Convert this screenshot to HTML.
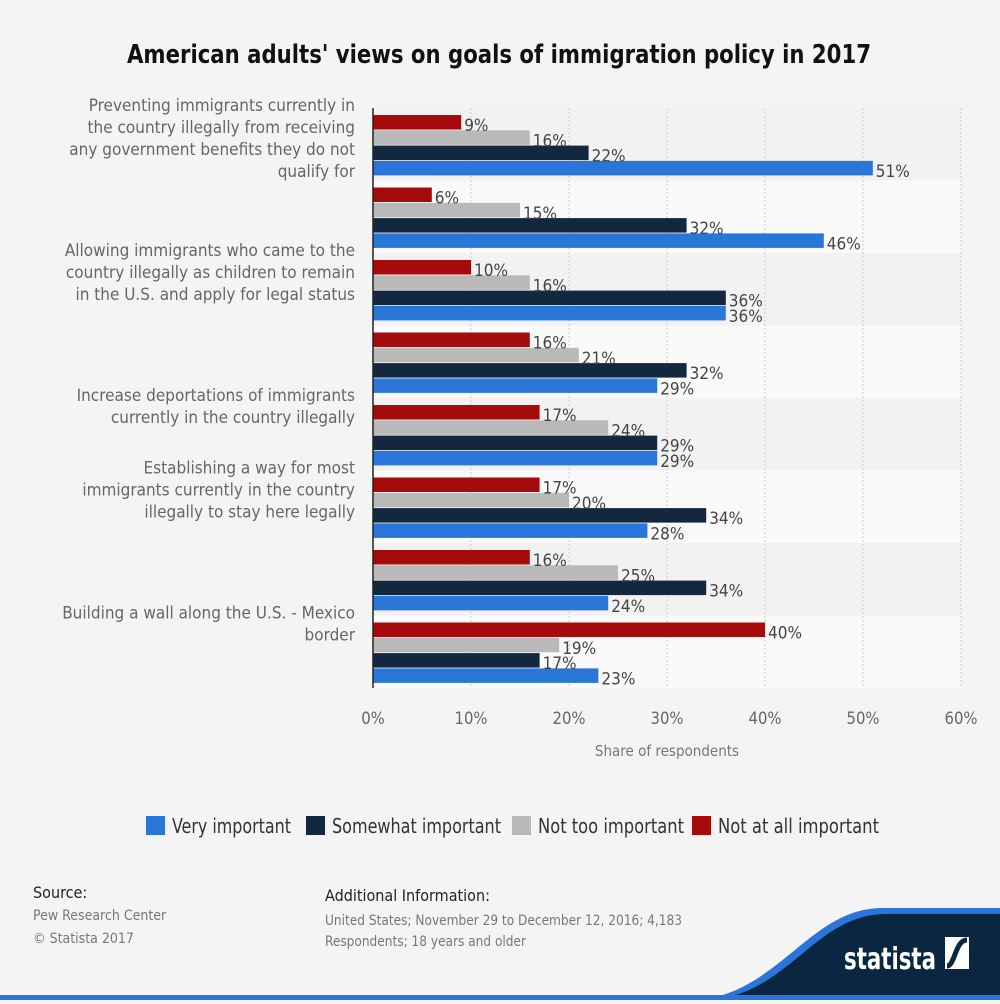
<!DOCTYPE html>
<html><head><meta charset="utf-8">
<style>
html,body{margin:0;padding:0;background:#f4f4f4;}
body{width:1000px;height:1000px;position:relative;overflow:hidden;font-family:"Liberation Sans Narrow","DejaVu Sans Condensed","Liberation Sans",sans-serif;}
svg text{font-family:"Liberation Sans Narrow","DejaVu Sans Condensed","Liberation Sans",sans-serif;}
</style></head>
<body>
<svg id="chart" width="1000" height="1000">
<text x="127" y="63" textLength="744" lengthAdjust="spacingAndGlyphs" font-size="26" font-weight="bold" fill="#111">American adults' views on goals of immigration policy in 2017</text>
<g id="bands"></g><g id="grid"></g><g id="bars"></g><g id="labels"></g><g id="cats"></g><g id="xticks"></g>
<line x1="373" y1="108" x2="373" y2="688" stroke="#222" stroke-width="1.5"/>
<text x="667" y="756" text-anchor="middle" font-size="15" fill="#777">Share of respondents</text>
<g id="legend"></g>
<g>
<text x="33" y="898" font-size="16" fill="#222">Source:</text>
<text x="33" y="920" font-size="14" fill="#777">Pew Research Center</text>
<text x="33" y="943" font-size="14" fill="#777">© Statista 2017</text>
</g>
<g>
<text x="325" y="901" font-size="16" fill="#222">Additional Information:</text>
<text x="325" y="925" font-size="14" fill="#777" textLength="357" lengthAdjust="spacingAndGlyphs">United States; November 29 to December 12, 2016; 4,183</text>
<text x="325" y="946" font-size="14" fill="#777" textLength="201" lengthAdjust="spacingAndGlyphs">Respondents; 18 years and older</text>
</g>
<path d="M700 1000 C780 990 810 910 880 908 L1000 908 L1000 1000 Z" fill="#2a75d8"/>
<path d="M712 1000 C790 992 815 915 885 914 L1000 914 L1000 1000 Z" fill="#0b2640"/>
<rect x="0" y="995" width="1000" height="5" fill="#2a75d8"/>
<text x="844" y="969" font-size="30" font-weight="bold" fill="#fff" textLength="92" lengthAdjust="spacingAndGlyphs">statista</text>
<rect x="945" y="937" width="24" height="32" fill="#fff"/>
<path d="M947 966 C955 966 955 940 967 940" stroke="#0b2640" stroke-width="5" fill="none"/>
</svg>
<script>
const categories=["Preventing immigrants currently in|the country illegally from receiving|any government benefits they do not|qualify for","","Allowing immigrants who came to the|country illegally as children to remain|in the U.S. and apply for legal status","","Increase deportations of immigrants|currently in the country illegally","Establishing a way for most|immigrants currently in the country|illegally to stay here legally","","Building a wall along the U.S. - Mexico|border"];
const notAtAll=[9,6,10,16,17,17,16,40];
const notToo=[16,15,16,21,24,20,25,19];
const somewhat=[22,32,36,32,29,34,34,17];
const very=[51,46,36,29,29,28,24,23];
const xTicks=[0,10,20,30,40,50,60];
const seriesNames=["Very important","Somewhat important","Not too important","Not at all important"];
const ns="http://www.w3.org/2000/svg";
const X0=373,X1=961,XMAX=60,TOP=108,BOT=688;
const gH=(BOT-TOP)/categories.length;
const x=v=>X0+v/XMAX*(X1-X0);
function mk(tag,attrs,parent){const e=document.createElementNS(ns,tag);for(const k in attrs)e.setAttribute(k,attrs[k]);parent.appendChild(e);return e;}
const G=id=>document.getElementById(id);
const series=[[notAtAll,"#a50b0b","not-at-all-important"],[notToo,"#b9b9b9","not-too-important"],[somewhat,"#13273f","somewhat-important"],[very,"#2a75d8","very-important"]];
categories.forEach((c,i)=>{
  const y0=TOP+i*gH;
  const b=mk('rect',{x:X0,y:y0,width:X1-X0,height:gH,fill:i%2?'#fafafa':'#f2f2f2'},G('bands'));
  
  
  series.forEach((s,j)=>{
    const v=s[0][i],by=y0+7+j*15.3;
    const r=mk('rect',{x:X0,y:by,width:x(v)-X0,height:14.5,fill:s[1]},G('bars'));
    
    
    const t=mk('text',{x:x(v)+3,y:by+16,'font-size':17,fill:'#444'},G('labels'));
    t.textContent=v+'%';
    
    
  });
  if(c){
    const lines=c.split('|');
    const t=mk('text',{x:355,'text-anchor':'end','font-size':17,fill:'#666'},G('cats'));
    
    
    lines.forEach((l,k)=>{const ts=mk('tspan',{x:355,y:y0+3+k*22},t);ts.textContent=l;});
  }
});
xTicks.forEach(v=>{
  if(v>0){const l=mk('line',{x1:x(v),x2:x(v),y1:TOP,y2:BOT,stroke:'#ccc','stroke-dasharray':'2,2'},G('grid'));
  
  }
  const t=mk('text',{x:x(v),y:724,'text-anchor':'middle','font-size':16.5,fill:'#666'},G('xticks'));
  t.textContent=v+'%';
  
  
});
const legCols=["#2a75d8","#13273f","#b9b9b9","#a50b0b"];
const legX=[146,306,512,692];
const legW=[119,169,146,161];
seriesNames.forEach((n,i)=>{
  const r=mk('rect',{x:legX[i],y:816,width:19,height:19,fill:legCols[i]},G('legend'));
  
  
  const t=mk('text',{x:legX[i]+26,y:833,'font-size':20,fill:'#333',textLength:legW[i],lengthAdjust:'spacingAndGlyphs'},G('legend'));
  t.textContent=n;
  
  
});
</script>
</body></html>
